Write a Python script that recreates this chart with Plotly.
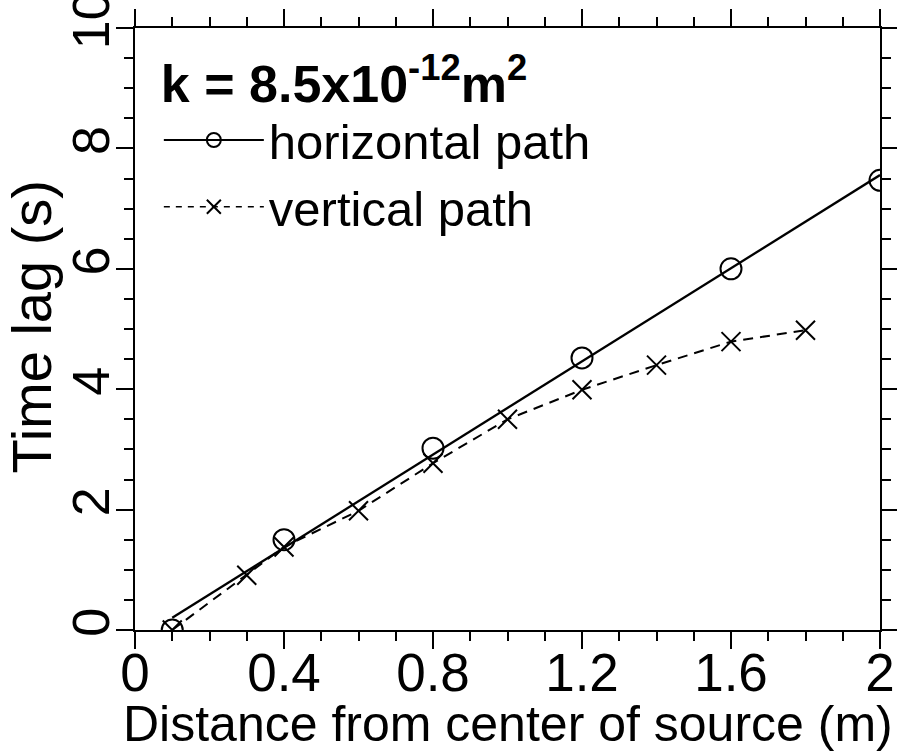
import numpy as np
import plotly.graph_objects as go

# Data
horiz_x = [0.1, 0.4, 0.8, 1.2, 1.6, 2.0]
horiz_y = [0.0, 1.5, 3.02, 4.52, 6.0, 7.47]
vert_x = [0.1, 0.3, 0.4, 0.6, 0.8, 1.0, 1.2, 1.4, 1.6, 1.8]
vert_y = [0.0, 0.91, 1.38, 1.98, 2.77, 3.5, 3.99, 4.4, 4.79, 4.98]
x_ticks = [0, 0.4, 0.8, 1.2, 1.6, 2]
x_tick_labels = ["0", "0.4", "0.8", "1.2", "1.6", "2"]
y_ticks = [0, 2, 4, 6, 8, 10]
y_tick_labels = ["0", "2", "4", "6", "8", "10"]

# least-squares line through the horizontal-path points
slope, intercept = np.polyfit(horiz_x, horiz_y, 1)
fit_x = [min(horiz_x), max(horiz_x)]
fit_y = [slope * v + intercept for v in fit_x]

FONT = "Liberation Sans, Arial, Helvetica, sans-serif"
DASH = "10px,7px"

fig = go.Figure()
# fitted line for the horizontal path
fig.add_trace(go.Scatter(x=fit_x, y=fit_y, mode="lines",
                         line=dict(color="black", width=2.3),
                         showlegend=False, hoverinfo="skip"))
fig.add_trace(go.Scatter(x=horiz_x, y=horiz_y, mode="markers",
                         name="horizontal path", showlegend=False,
                         marker=dict(symbol="circle-open", size=21, color="black",
                                     line=dict(width=2, color="black"))))
fig.add_trace(go.Scatter(x=vert_x, y=vert_y, mode="markers+lines",
                         name="vertical path", showlegend=False,
                         line=dict(color="black", width=2, dash=DASH),
                         marker=dict(symbol="x-thin-open", size=19, color="black",
                                     line=dict(width=2, color="black"))))
# legend entries
fig.add_trace(go.Scatter(x=[None], y=[None], mode="lines+markers",
                         name="horizontal path",
                         line=dict(color="black", width=2),
                         marker=dict(symbol="circle-open", size=14, color="black",
                                     line=dict(width=2, color="black"))))
fig.add_trace(go.Scatter(x=[None], y=[None], mode="lines+markers",
                         name="vertical path",
                         line=dict(color="black", width=1.5, dash="6px,6px"),
                         marker=dict(symbol="x-thin-open", size=14, color="black",
                                     line=dict(width=2, color="black"))))

axis_common = dict(showline=True, linecolor="black", linewidth=2, mirror="ticks",
                   ticks="outside", ticklen=17, tickwidth=2, tickcolor="black",
                   showgrid=False, zeroline=False, ticklabeloverflow="allow",
                   automargin=False)

fig.update_xaxes(range=[0, 2], tickvals=x_ticks, ticktext=x_tick_labels,
                 tickfont=dict(family=FONT, size=53, color="black"),
                 ticklabelstandoff=-22,
                 minor=dict(dtick=0.1, ticks="outside", ticklen=9, tickwidth=2,
                            tickcolor="black", showgrid=False),
                 **axis_common)
fig.update_yaxes(range=[0, 10], tickvals=y_ticks, ticktext=y_tick_labels, tickangle=-90,
                 tickfont=dict(family=FONT, size=52, color="black"),
                 ticklabelstandoff=-14,
                 minor=dict(dtick=0.5, ticks="outside", ticklen=9, tickwidth=2,
                            tickcolor="black", showgrid=False),
                 **axis_common)

# axis titles as annotations for exact placement
fig.add_annotation(text="Distance from center of source (m)", xref="paper", yref="paper",
                   x=0.5, y=0, yshift=-64, xanchor="center", yanchor="top",
                   showarrow=False, font=dict(family=FONT, size=50, color="black"))
fig.add_annotation(text="Time lag (s)", xref="paper", yref="paper",
                   x=0, y=0.5, xshift=-71, yshift=2, xanchor="right", yanchor="middle",
                   textangle=-90,
                   showarrow=False, font=dict(family=FONT, size=56, color="black"))

fig.update_layout(
    width=897, height=754,
    margin=dict(l=135, r=17, t=28, b=124),
    plot_bgcolor="white", paper_bgcolor="white",
    font=dict(family=FONT, color="black"),
    showlegend=True,
    legend=dict(x=0.032, y=0.99, xanchor="left", yanchor="top",
                bgcolor="rgba(0,0,0,0)", itemwidth=100, tracegroupgap=0,
                font=dict(family=FONT, size=49, color="black"),
                title=dict(text="<b>k = 8.5x10<sup>-12</sup>m<sup>2</sup></b>",
                           font=dict(family=FONT, size=52, color="black"))),
)

fig.write_html("out.html", config={"displayModeBar": False},
               post_script="document.body.style.margin='0';document.body.style.overflow='hidden';")
